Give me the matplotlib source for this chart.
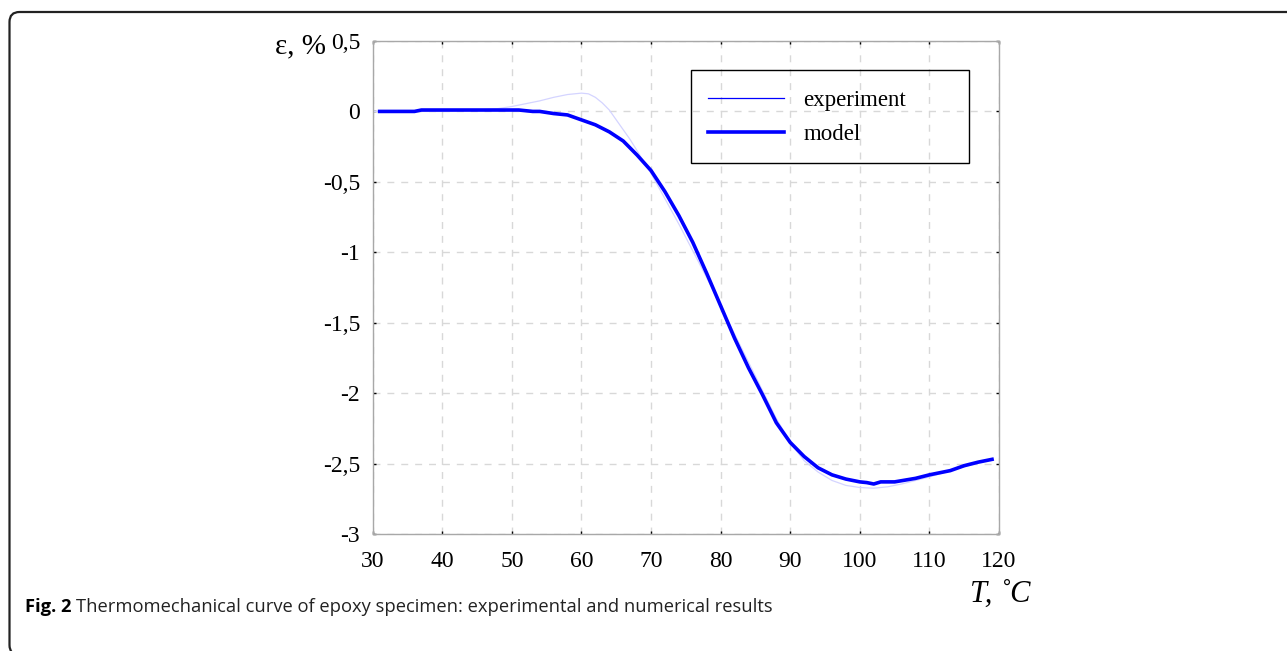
import matplotlib
matplotlib.use("Agg")
import matplotlib.pyplot as plt
from matplotlib.lines import Line2D
from matplotlib.patches import Rectangle, FancyBboxPatch
from matplotlib.transforms import IdentityTransform

# experiment (faint thin line)
t_exp = [30, 35, 40, 45, 48, 50, 52, 54, 56, 58, 60, 61, 62, 63, 64, 65, 66, 67,
         68, 69, 70, 72, 74, 76, 78, 80, 82, 84, 86, 88, 90, 92, 94, 96, 98, 100,
         102, 104, 106, 108, 110, 112, 114, 116, 118, 119]
eps_exp = [0, 0, 0, 0.01, 0.02, 0.035, 0.055, 0.075, 0.1, 0.12, 0.13, 0.125, 0.1,
           0.06, 0.01, -0.06, -0.13, -0.2, -0.28, -0.36, -0.44, -0.62, -0.8, -0.99,
           -1.18, -1.38, -1.58, -1.78, -1.98, -2.18, -2.35, -2.48, -2.56, -2.62,
           -2.655, -2.67, -2.675, -2.665, -2.645, -2.62, -2.595, -2.565, -2.535,
           -2.51, -2.48, -2.47]

# model (thick line)
t_mod = [31, 36, 37, 40, 45, 50, 51, 52, 53, 54, 56, 58, 60, 62, 64, 66, 68, 70,
         72, 74, 76, 78, 80, 82, 84, 86, 88, 90, 92, 94, 96, 98, 100, 101, 102,
         103, 105, 108, 110, 113, 115, 117, 119]
eps_mod = [0, 0, 0.01, 0.01, 0.01, 0.01, 0.01, 0.005, 0, 0, -0.015, -0.025, -0.06,
           -0.095, -0.145, -0.21, -0.31, -0.42, -0.57, -0.74, -0.93, -1.15, -1.38,
           -1.61, -1.82, -2.01, -2.21, -2.35, -2.45, -2.53, -2.58, -2.61, -2.63,
           -2.635, -2.645, -2.63, -2.63, -2.605, -2.58, -2.55, -2.515, -2.49, -2.47]

xticks = [30, 40, 50, 60, 70, 80, 90, 100, 110, 120]
yticks = [-3, -2.5, -2, -1.5, -1, -0.5, 0, 0.5]
ytick_labels = ["-3", "-2,5", "-2", "-1,5", "-1", "-0,5", "0", "0,5"]

W, H = 1287, 651
fig = plt.figure(figsize=(W / 100, H / 100), dpi=100)
serif = "Liberation Serif"

# page frame with rounded corners (bottom edge just off the picture)
frame = FancyBboxPatch((9.5, -4), 1320, H - 12 + 4, boxstyle="round,pad=0,rounding_size=10",
                       transform=IdentityTransform(), fill=False, ec="#222222", lw=1.6)
fig.add_artist(frame)

ax = fig.add_axes([372.7 / W, 1 - 534 / H, (999 - 372.7) / W, (534 - 41) / H])
ax.plot(t_exp, eps_exp, color="#d4d4ff", lw=0.9)
ax.plot(t_mod, eps_mod, color="#0000ff", lw=2.6)

ax.set_xlim(30, 120)
ax.set_ylim(-3, 0.5)
ax.set_xticks(xticks)
ax.set_xticklabels([str(v) for v in xticks], fontfamily=serif, fontsize=17)
ax.set_yticks(yticks)
ax.set_yticklabels(ytick_labels, fontfamily=serif, fontsize=17)
ax.tick_params(direction="in", length=2, width=1, top=True, right=True)
ax.tick_params(axis="x", pad=12)
ax.tick_params(axis="y", pad=9)
ax.grid(True, color="#d8d8d8", linestyle=(0, (5, 5)), lw=1)
for s in ax.spines.values():
    s.set_color("#a8a8a8")
    s.set_linewidth(1)

# legend
ax.add_patch(Rectangle((0.508, 0.753), 0.444, 0.188, transform=ax.transAxes,
                       fill=False, ec="black", lw=1, zorder=5))
handles = [Line2D([], [], color="#0000ff", lw=0.9),
           Line2D([], [], color="#0000ff", lw=2.6)]
ax.legend(handles, ["experiment", "model"], loc="upper left",
          bbox_to_anchor=(0.508, 0.936), frameon=False, borderaxespad=0,
          borderpad=0.75, handlelength=3.3, handletextpad=0.85, labelspacing=0.58,
          prop={"family": serif, "size": 16.5})

fig.text(326 / W, 1 - 46 / H, "ε, %", ha="right", va="center", fontfamily=serif, fontsize=21)
fig.text(1030 / W, 1 - 594 / H, "T, ˚C", ha="right", va="center", fontfamily=serif,
         fontstyle="italic", fontsize=22)

# caption
r = fig.canvas.get_renderer()
t1 = fig.text(25 / W, 1 - 607 / H, "Fig. 2", ha="left", va="center",
              fontfamily="Open Sans", fontweight="bold", fontsize=13.2)
bb = t1.get_window_extent(r)
fig.text((bb.x1 + 5) / W, 1 - 607 / H,
         "Thermomechanical curve of epoxy specimen: experimental and numerical results",
         ha="left", va="center", fontfamily="Open Sans", fontsize=13.2, color="#222222")

fig.savefig("out.png", dpi=100)
